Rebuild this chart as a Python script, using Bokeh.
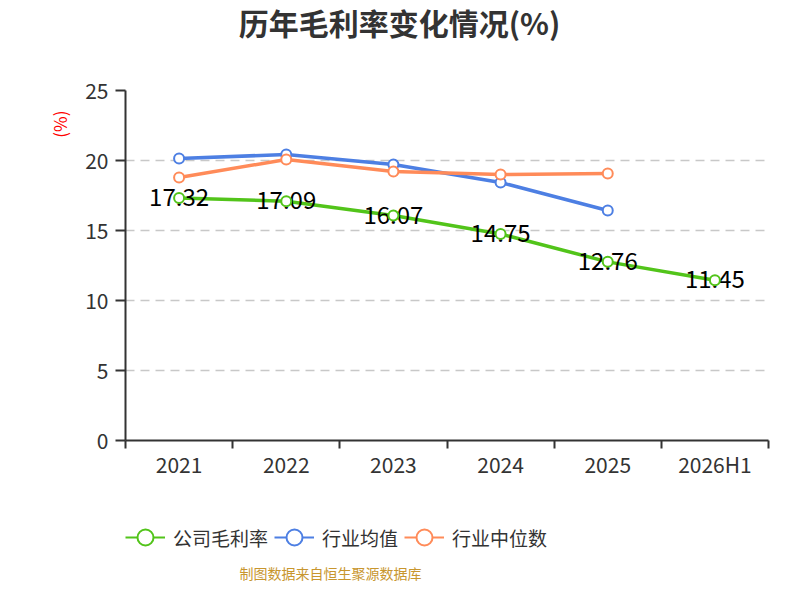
from bokeh.plotting import figure
from bokeh.layouts import column
from bokeh.models import Range1d, FixedTicker, Legend, LegendItem, ColumnDataSource, Title
from bokeh.core.properties import value
from bokeh.embed import file_html
from bokeh.resources import INLINE

# ---- data ----
categories = ["2021", "2022", "2023", "2024", "2025", "2026H1"]
company_margin = [17.32, 17.09, 16.07, 14.75, 12.76, 11.45]
industry_avg = [20.14, 20.43, 19.71, 18.43, 16.43]
industry_median = [18.79, 20.07, 19.21, 19.00, 19.07]
y_ticks = [0, 5, 10, 15, 20, 25]
title_text = "历年毛利率变化情况(%)"
y_unit = "(%)"
series_names = ["公司毛利率", "行业均值", "行业中位数"]
source_text = "制图数据来自恒生聚源数据库"

FONT = "Noto Sans CJK SC"
GREEN = "#52c41a"
BLUE = "#4d7fe3"
ORANGE = "#ff8b59"
W = 784
LEFT, RIGHT = 125, 16
NAN = float("nan")


def blank(height):
    # strip whose frame shares the main chart's horizontal borders; coordinates are canvas pixels
    f = figure(width=W, height=height, output_backend="svg", toolbar_location=None,
               x_range=Range1d(LEFT, W - RIGHT), y_range=Range1d(height, 0),
               x_axis_type=None, y_axis_type=None,
               min_border_left=LEFT, min_border_right=RIGHT, min_border_top=0, min_border_bottom=0)
    f.outline_line_color = None
    f.xgrid.visible = False
    f.ygrid.visible = False
    return f


# ---- title strip ----
top = blank(75)
top.text(x=[399], y=[21], text=[title_text], text_align="center", text_baseline="middle",
         text_font=value(FONT), text_font_size="30px", text_font_style="bold", text_color="#333333")

# ---- main chart ----
xpos = [i + 0.5 for i in range(len(categories))]

p = figure(width=W, height=425, output_backend="svg", toolbar_location=None,
           x_range=Range1d(0, len(categories)), y_range=Range1d(0, 25),
           min_border_left=LEFT, min_border_right=RIGHT, min_border_top=15, min_border_bottom=60)
p.outline_line_color = None

xa = p.xaxis[0]
xa.ticker = FixedTicker(ticks=xpos, minor_ticks=list(range(len(categories) + 1)))
xa.major_label_overrides = {x: c for x, c in zip(xpos, categories)}
xa.major_tick_out = 0
xa.major_tick_in = 0
xa.minor_tick_out = 8
xa.minor_tick_in = 0
xa.minor_tick_line_color = "#333333"
xa.minor_tick_line_width = 2
xa.axis_line_color = "#333333"
xa.axis_line_width = 2
xa.major_label_text_font = FONT
xa.major_label_text_font_size = "21px"
xa.major_label_text_color = "#333333"
xa.major_label_standoff = 0

ya = p.yaxis[0]
ya.ticker = FixedTicker(ticks=y_ticks)
ya.major_tick_out = 10
ya.major_tick_in = 0
ya.minor_tick_out = 0
ya.minor_tick_in = 0
ya.major_tick_line_color = "#333333"
ya.major_tick_line_width = 2
ya.axis_line_color = "#333333"
ya.axis_line_width = 2
ya.major_label_text_font = FONT
ya.major_label_text_font_size = "21px"
ya.major_label_text_color = "#333333"
ya.major_label_standoff = 7

p.xgrid.grid_line_color = None
p.ygrid.ticker = FixedTicker(ticks=y_ticks)
p.ygrid.grid_line_color = "#c8c8c8"
p.ygrid.grid_line_dash = "9 6"
p.ygrid.grid_line_width = 1.5

p.add_layout(Title(text=y_unit, align="right", offset=20, standoff=22, vertical_align="bottom",
                   text_font=FONT, text_font_size="17px", text_font_style="normal",
                   text_color="#ff0000"), "left")

src_c = ColumnDataSource(dict(x=xpos, y=company_margin, t=[f"{v:.2f}" for v in company_margin]))
src_a = ColumnDataSource(dict(x=xpos[:len(industry_avg)], y=industry_avg))
src_m = ColumnDataSource(dict(x=xpos[:len(industry_median)], y=industry_median))

p.line("x", "y", source=src_a, line_color=BLUE, line_width=3.5)
p.line("x", "y", source=src_m, line_color=ORANGE, line_width=3.5)
p.line("x", "y", source=src_c, line_color=GREEN, line_width=3.5)
p.scatter("x", "y", source=src_a, size=10, fill_color="white", line_color=BLUE, line_width=2)
p.scatter("x", "y", source=src_m, size=10, fill_color="white", line_color=ORANGE, line_width=2)
p.text("x", "y", text="t", source=src_c, text_align="center", text_baseline="middle",
       text_font=value(FONT), text_font_size="24px", text_color="#000000", y_offset=-1)
p.scatter("x", "y", source=src_c, size=10, fill_color="white", line_color=GREEN, line_width=2)

# ---- legend + source strip ----
bot = blank(84)
colors = [GREEN, BLUE, ORANGE]
items = []
for name, col in zip(series_names, colors):
    proxy = ColumnDataSource(dict(x=[NAN], y=[NAN]))  # legend swatch only, nothing drawn
    lr = bot.line("x", "y", source=proxy, line_color=col, line_width=2)
    sr = bot.scatter("x", "y", source=proxy, size=10, fill_color="white", line_color=col, line_width=2)
    items.append(LegendItem(label=name, renderers=[lr, sr]))
legend = Legend(items=items, orientation="horizontal", location=(0, 26),
                glyph_width=40, glyph_height=42, label_standoff=8, spacing=6,
                padding=0, margin=0, background_fill_alpha=0, border_line_alpha=0,
                label_text_font=FONT, label_text_font_size="19px", label_text_color="#333333")
bot.add_layout(legend, "center")
bot.text(x=[330], y=[72], text=[source_text], text_align="center", text_baseline="middle",
         text_font=value(FONT), text_font_size="14px", text_color="#c8962e")

layout = column(top, p, bot, spacing=0)
open("out.html", "w").write(file_html(layout, INLINE))
